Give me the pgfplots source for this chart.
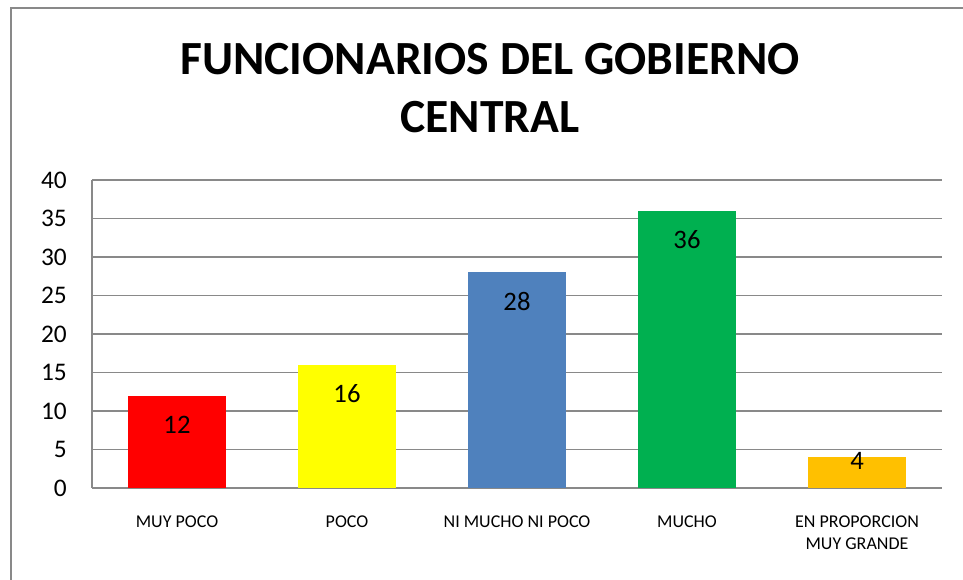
\documentclass[border=0pt]{standalone}
\usepackage{fontspec}
\setmainfont{Carlito}
\usepackage{pgfplots}
\pgfplotsset{compat=1.18}
\definecolor{cred}{HTML}{FF0000}
\definecolor{cyel}{HTML}{FFFF00}
\definecolor{cblue}{HTML}{4F81BD}
\definecolor{cgreen}{HTML}{00B050}
\definecolor{corange}{HTML}{FFC000}
\definecolor{cgrid}{HTML}{898989}
\begin{document}
\begin{tikzpicture}
\path[use as bounding box] (0,0) rectangle (722.25pt,435pt);
\draw[cgrid, line width=1.1pt] (8.25pt,0) -- (8.25pt,429pt) -- (722.25pt,429pt);
\node[anchor=base, font=\fontsize{35.7}{42}\selectfont\bfseries, inner sep=0pt] at (367.5pt,378.75pt) {FUNCIONARIOS DEL GOBIERNO};
\node[anchor=base, font=\fontsize{35.7}{42}\selectfont\bfseries, inner sep=0pt] at (367.5pt,335.25pt) {CENTRAL};
\begin{axis}[
  scale only axis, width=637.5pt, height=231pt,
  at={(69pt,69pt)}, anchor=south west,
  xmin=-0.5, xmax=4.5, ymin=0, ymax=40,
  ytick={0,5,...,40}, xtick={0,1,2,3,4},
  xticklabels={MUY POCO, POCO, NI MUCHO NI POCO, MUCHO, {EN PROPORCION\\MUY GRANDE}},
  ybar, bar width=73.5pt, bar shift=0pt,
  axis x line*=bottom, axis y line*=left,
  axis line style={cgrid, line width=1.1pt},
  ymajorgrids, grid style={cgrid, line width=1.1pt},
  major tick length=0pt, tick style={draw=none},
  /pgf/number format/assume math mode=true,
  yticklabel style={font=\fontsize{19}{19}\selectfont, anchor=east, inner sep=0pt, xshift=-18.75pt},
  xticklabel style={font=\fontsize{13.5}{16.5}\selectfont, align=center, anchor=north, inner sep=0pt, yshift=-21pt},
  nodes near coords,
  every node near coord/.append style={font=\fontsize{20}{20}\selectfont, anchor=base, inner sep=0pt, yshift=-28.5pt},
]
\addplot[fill=cred, draw=none] coordinates {(0,12)};
\addplot[fill=cyel, draw=none] coordinates {(1,16)};
\addplot[fill=cblue, draw=none] coordinates {(2,28)};
\addplot[fill=cgreen, draw=none] coordinates {(3,36)};
\addplot[fill=corange, draw=none, every node near coord/.append style={yshift=19.5pt}] coordinates {(4,4)};
\end{axis}
\end{tikzpicture}
\end{document}
